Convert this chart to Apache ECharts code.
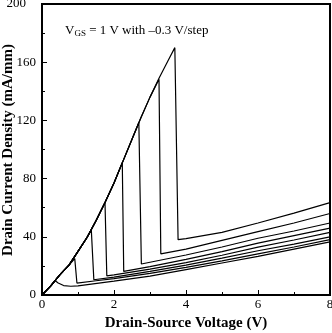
<!DOCTYPE html>
<html lang="en">
<head>
  <meta charset="UTF-8">
  <title>Drain current density</title>
  <script src="https://cdn.jsdelivr.net/npm/echarts@6/dist/echarts.min.js"></script>
</head>
<body style="margin:0">
  <div id="app" style="width: 332px; height: 333px;"></div>
  <script>
    // common rising part that all curves share before snapback
    var envX = [0, 0.25, 0.5, 0.75, 1, 1.25, 1.5, 1.75, 2, 2.25, 2.5, 2.75, 3, 3.25, 3.5]
    var envY = [0, 6.5, 14, 20.5, 30, 39.5, 51, 63.5, 77, 92, 107, 122, 136, 149, 161]

    // VGS from -1.1 V up to 1 V (0.3 V steps)
    var vgs = ['-1.1', '-0.8', '-0.5', '-0.2', '0.1', '0.4', '0.7', '1']
    var peaks = [[0.36, 10], [0.91, 25], [1.37, 44.6], [1.77, 64.7], [2.23, 91], [2.69, 118.6], [3.25, 148.3], [3.69, 170]]

    var tail1 = [[0.45, 8.3], [0.6, 6.5], [0.8, 6], [1, 6.3], [2, 9.5], [3, 13], [4, 17.5], [5, 22], [6, 26.5], [7, 31.5], [8, 36.5]]
    var tail2 = [[0.97, 8.2], [1.5, 9.8], [2, 11.2], [3, 14.8], [4, 19], [5, 23.5], [6, 28.3], [7, 33], [8, 38]]
    var tail3 = [[1.44, 10.5], [2, 12.3], [3, 16.2], [4, 20.5], [5, 25.3], [6, 30.4], [7, 35], [8, 40]]
    var tail4 = [[1.8, 13.2], [2, 13.8], [3, 17.8], [4, 22.3], [5, 27.3], [6, 32.9], [7, 37.8], [8, 43]]
    var tail5 = [[2.27, 16.2], [3, 19.5], [4, 24.5], [5, 29.8], [6, 35.7], [7, 40.8], [8, 46]]
    var tail6 = [[2.76, 21.3], [3, 22.5], [4, 27.5], [5, 33], [6, 39], [7, 44], [8, 49.5]]
    var tail7 = [[3.3, 28.3], [4, 31.5], [5, 37.5], [6, 43.6], [7, 49.5], [8, 56]]
    var tail8 = [[3.78, 38], [4, 38.8], [5, 43], [6, 49.5], [7, 56.3], [8, 63.5]]
    var tails = [tail1, tail2, tail3, tail4, tail5, tail6, tail7, tail8]

    var xTicks = [0, 2, 4, 6, 8]
    var yTicks = [0, 40, 80, 120, 160, 200]

    var series = []
    for (var i = 0; i < peaks.length; i++) {
      var pts = []
      for (var j = 0; j < envX.length; j++) {
        if (envX[j] < peaks[i][0]) pts.push([envX[j], envY[j]])
      }
      pts.push(peaks[i])
      pts = pts.concat(tails[i])
      series.push({
        name: 'VGS = ' + vgs[i] + ' V',
        type: 'line',
        data: pts,
        showSymbol: false,
        silent: true,
        lineStyle: { color: '#000', width: 1.2 }
      })
    }

    var serif = '"Liberation Serif", "Times New Roman", serif'
    var mCharts = echarts.init(document.querySelector('#app'))
    var option = {
      animation: false,
      grid: { left: 42, right: 2, top: 4, bottom: 38, show: true, borderColor: '#000', borderWidth: 2,
        containLabel: false, outerBoundsMode: 'none' },
      graphic: [{
        type: 'text',
        left: 65,
        top: 24,
        style: {
          text: '{v|V}{s|GS}{v| = 1 V with \u20130.3 V/step}',
          rich: {
            v: { fontFamily: serif, fontSize: 13, fill: '#000' },
            s: { fontFamily: serif, fontSize: 9, fill: '#000', padding: [6, 0, 0, 0] }
          }
        }
      }, {
        // y axis title, drawn by hand so it is not pushed off the canvas
        type: 'text',
        x: 8,
        y: 150,
        rotation: Math.PI / 2,
        style: {
          text: 'Drain Current Density (mA/mm)',
          fontFamily: serif, fontWeight: 'bold', fontSize: 15, fill: '#000',
          align: 'center', verticalAlign: 'middle'
        }
      }],
      xAxis: {
        type: 'value',
        min: 0, max: 8, interval: 2,
        name: 'Drain-Source Voltage (V)',
        nameLocation: 'middle',
        nameGap: 19,
        nameTextStyle: { fontFamily: serif, fontWeight: 'bold', fontSize: 15, color: '#000' },
        axisLine: { lineStyle: { color: '#000', width: 2 } },
        axisTick: { inside: true, length: 5, lineStyle: { color: '#000' } },
        minorTick: { show: true, splitNumber: 2, length: 3, lineStyle: { color: '#000' } },
        splitLine: { show: false },
        axisLabel: { fontFamily: serif, fontSize: 13, color: '#000', margin: 3,
          formatter: function (v) { return xTicks.indexOf(v) >= 0 ? String(v) : '' } }
      },
      yAxis: {
        type: 'value',
        min: 0, max: 200, interval: 40,
        axisLine: { lineStyle: { color: '#000', width: 2 } },
        axisTick: { inside: true, length: 5, lineStyle: { color: '#000' } },
        minorTick: { show: true, splitNumber: 2, length: 3, lineStyle: { color: '#000' } },
        splitLine: { show: false },
        axisLabel: { fontFamily: serif, fontSize: 13, color: '#000', margin: 6,
          formatter: function (v) {
            if (v === 200) return '{top|200}'
            return yTicks.indexOf(v) >= 0 ? String(v) : ''
          },
          rich: { top: { fontFamily: serif, fontSize: 13, color: '#000', padding: [0, 10, 0, 0] } } }
      },
      series: series
    }
    mCharts.setOption(option)
  </script>
</body>
</html>
